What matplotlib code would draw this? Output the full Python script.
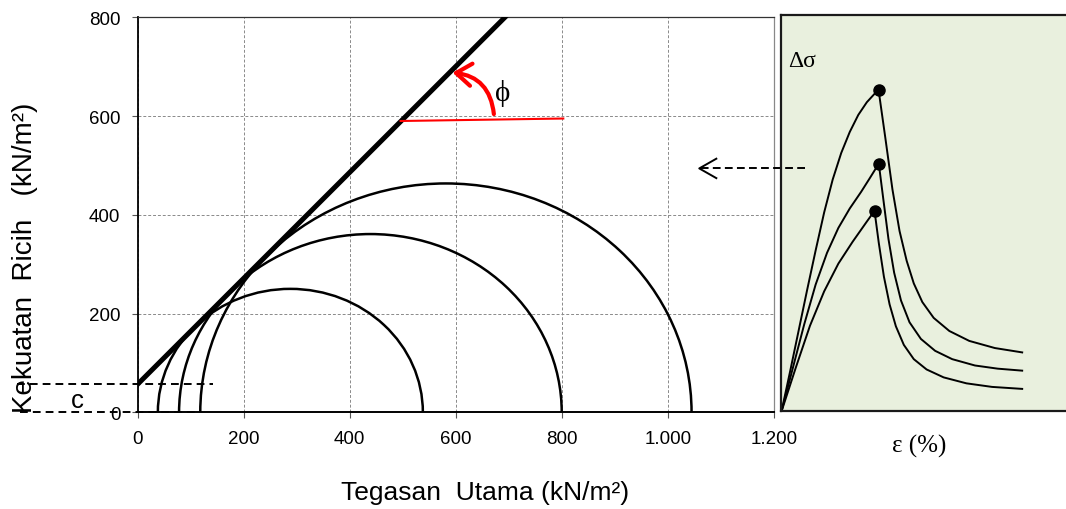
import numpy as np
import matplotlib
matplotlib.use("Agg")
import matplotlib.pyplot as plt
from matplotlib.patches import Arc
from matplotlib.ticker import FuncFormatter

plt.rcParams['font.family'] = ['Liberation Sans', 'DejaVu Sans']
SERIF = ['Liberation Serif', 'DejaVu Serif']

# Mohr circles, kN/m2
sigma3 = [38, 78, 118]
sigma1 = [538, 800, 1045]
# failure envelope
cohesion = 57
phi_deg = 47
# red reference line and angle arrow
ref_x = [496, 803]
ref_y = [590, 595]
arrow_tail = (672, 604)
arrow_tip = (594, 688)
phi_pos = (689, 648)

# stress-strain curves (right panel, arbitrary units)
strain_hi = [0, 0.3, 0.6, 0.9, 1.2, 1.5, 1.8, 2.1, 2.4, 2.7, 3.0, 3.41,
             3.65, 3.90, 4.15, 4.40, 4.65, 4.95, 5.35, 5.9, 6.6, 7.5, 8.46]
stress_hi = [0, 10.0, 20.3, 30.6, 40.6, 50.2, 58.5, 65.2, 70.5, 74.8, 78.0, 81.2,
             69.0, 56.0, 45.5, 38.0, 32.3, 27.6, 23.6, 20.3, 17.8, 16.0, 14.9]
strain_mid = [0, 0.4, 0.8, 1.2, 1.6, 2.0, 2.4, 2.8, 3.1, 3.42,
              3.58, 3.76, 3.96, 4.2, 4.5, 4.9, 5.4, 6.0, 6.8, 7.6, 8.46]
stress_mid = [0, 11.0, 22.0, 32.0, 40.0, 46.3, 51.2, 55.4, 58.8, 62.5,
              53.5, 43.5, 35.0, 28.0, 22.5, 18.3, 15.3, 13.2, 11.6, 10.8, 10.3]
strain_lo = [0, 0.5, 1.0, 1.5, 2.0, 2.5, 3.0, 3.27,
             3.42, 3.6, 3.8, 4.02, 4.3, 4.65, 5.1, 5.7, 6.5, 7.4, 8.46]
stress_lo = [0, 11.0, 21.6, 30.3, 37.3, 42.8, 47.9, 50.6,
             42.5, 34.0, 27.0, 21.5, 16.8, 13.2, 10.6, 8.6, 7.1, 6.2, 5.7]

fig = plt.figure(figsize=(10.66, 5.10), dpi=100)

# ---- left: Mohr-Coulomb ----
ax = fig.add_axes([0.1292, 0.1896, 0.5966, 0.7745])
ax.set_xlim(0, 1200)
ax.set_ylim(0, 800)
ax.set_xticks(range(0, 1201, 200))
ax.set_yticks(range(0, 801, 200))
fmt = FuncFormatter(lambda v, p: f"{v:,.0f}".replace(",", "."))
ax.xaxis.set_major_formatter(fmt)
ax.yaxis.set_major_formatter(fmt)
ax.grid(True, color='#8a8a8a', lw=0.7, ls=(0, (3, 2)))
ax.tick_params(direction='out', length=4.5, width=0.8, color='#555555',
               labelsize=13.5, pad=8)
ax.spines['left'].set_linewidth(1.3)
ax.spines['bottom'].set_linewidth(1.4)
ax.spines['top'].set_color('#333333')
ax.spines['top'].set_linewidth(0.9)
ax.spines['right'].set_color('#888888')
ax.spines['right'].set_linewidth(0.9)

for s3, s1 in zip(sigma3, sigma1):
    r = (s1 - s3) / 2
    ax.add_patch(Arc(((s1 + s3) / 2, 0), 2 * r, 2 * r, theta1=0, theta2=180,
                     lw=1.8, color='black', zorder=3))

ax.axline((0, cohesion), slope=np.tan(np.radians(phi_deg)), color='black',
          lw=3.6, zorder=4)

ax.plot(ref_x, ref_y, color='red', lw=1.5, zorder=5)
ax.annotate('', xy=arrow_tip, xytext=arrow_tail,
            arrowprops=dict(arrowstyle='->,head_length=0.55,head_width=0.4',
                            color='red', lw=3, mutation_scale=20,
                            shrinkA=0, shrinkB=0,
                            connectionstyle='arc3,rad=0.4'), zorder=6)
ax.text(phi_pos[0], phi_pos[1], '\u03d5', family=SERIF, fontsize=21,
        ha='center', va='center')

# cohesion markers
ax.plot([-228, 142], [cohesion, cohesion], color='black', lw=1.4,
        dashes=(4, 2.6), clip_on=False, zorder=5)
ax.plot([-222, sigma3[2]], [0, 0], color='black', lw=1.4,
        dashes=(4, 2.6), clip_on=False, zorder=5)
ax.text(-114, 25, 'c', fontsize=18.5, ha='center', va='center')

ax.set_xlabel('Tegasan  Utama (kN/m\u00b2)', fontsize=19, va='baseline')
ax.xaxis.set_label_coords(0.546, -0.2195)
ax.set_ylabel('Kekuatan  Ricih   (kN/m\u00b2)', fontsize=20, va='center')
ax.yaxis.set_label_coords(-0.177, 0.394)

# ---- right: stress-strain ----
ax2 = fig.add_axes([0.7331, 0.1912, 0.2669, 0.7775])
ax2.set_facecolor('#e9f0de')
ax2.set_xlim(0, 10)
ax2.set_ylim(0, 100)
ax2.set_xticks([])
ax2.set_yticks([])
for side in ['left', 'top', 'bottom']:
    ax2.spines[side].set_linewidth(1.6)
    ax2.spines[side].set_color('#1a1a1a')
ax2.spines['right'].set_visible(False)

for xs, ys in [(strain_hi, stress_hi), (strain_mid, stress_mid), (strain_lo, stress_lo)]:
    ax2.plot(xs, ys, color='black', lw=1.4)
    i = int(np.argmax(ys))
    ax2.plot(xs[i], ys[i], 'o', color='black', ms=8)

ax2.text(0.23, 88.6, '\u0394\u03c3', family=SERIF, fontsize=17, ha='left', va='center')
ax2.text(4.83, -8.6, '\u03b5 (%)', family=SERIF, fontsize=18, ha='center', va='center')

# dashed arrow pointing back to the Mohr diagram
arr_y = 61.3
ax2.plot([0.83, -2.89], [arr_y, arr_y], color='black', lw=1.4, dashes=(4, 2.2),
         clip_on=False)
ax2.plot([-2.29, -2.89, -2.29], [arr_y + 2.45, arr_y, arr_y - 2.45], color='black',
         lw=1.4, clip_on=False)

fig.savefig('out.png', dpi=100)
